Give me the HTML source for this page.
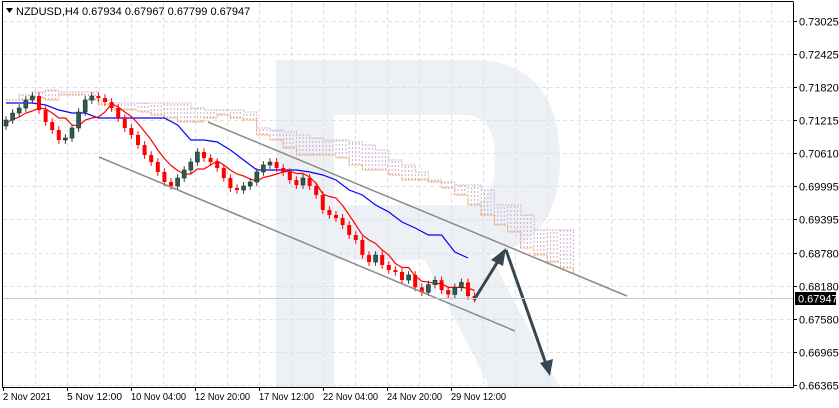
<!DOCTYPE html>
<html><head><meta charset="utf-8"><style>
html,body{margin:0;padding:0;background:#fff;}
svg{display:block;font-family:"Liberation Sans",sans-serif;}
</style></head><body>
<svg id="chart" width="839" height="408" viewBox="0 0 839 408" xmlns="http://www.w3.org/2000/svg">
<g id="watermark" fill="#edf1f6">
<rect x="276" y="60" width="58" height="328"/>
<path d="M334 60 H470 Q560 60 560 160 Q560 240 490 255 L560 388 H490 L425 260 H334 V205 H465 Q495 205 495 160 Q495 115 465 115 H334 Z"/>
</g>
<g id="grid"></g>
<g id="cloud"></g>
<g id="lines"></g>
<g id="candles"></g>
<line x1="208" y1="122" x2="627" y2="296" stroke="#8a8a8a" stroke-width="1.5"/>
<line x1="99" y1="157" x2="515" y2="331" stroke="#8a8a8a" stroke-width="1.5"/>
<g stroke="#37474f" stroke-width="3" fill="#37474f">
<line x1="474" y1="300" x2="500" y2="258"/>
<polygon points="506,248 491,260 503,266" stroke="none"/>
<line x1="506" y1="250" x2="546" y2="364"/>
<polygon points="550,376 540,363 553,359" stroke="none"/>
</g>
<line id="pline" x1="2" x2="793" stroke="#c8c8c8" stroke-width="1"/>
<g id="frame" fill="none" stroke="#000">
<line x1="2.5" y1="2" x2="2.5" y2="387.5"/>
<line x1="2" y1="387.5" x2="793.5" y2="387.5"/>
<line x1="793.5" y1="2" x2="793.5" y2="387.5"/>
<line x1="2" y1="1.5" x2="793.5" y2="1.5"/>
</g>
<g id="yaxis" font-size="11" fill="#000"></g>
<g id="xaxis" font-size="10" fill="#000"></g>
<text x="16" y="15" font-size="11">NZDUSD,H4  0.67934 0.67967 0.67799 0.67947</text>
<polygon points="6,8 13,8 9.5,13" fill="#000"/>
</svg>
<script>
const priceTicks=[0.73025,0.72425,0.71820,0.71215,0.70610,0.69995,0.69395,0.68780,0.68180,0.67580,0.66965,0.66365];
const timeLabels=["2 Nov 2021","5 Nov 12:00","10 Nov 04:00","12 Nov 20:00","17 Nov 12:00","22 Nov 04:00","24 Nov 20:00","29 Nov 12:00"];
const closes=[0.71209,0.71337,0.71429,0.71575,0.71648,0.71392,0.71173,0.71026,0.70844,0.70880,
0.71063,0.71355,0.71575,0.71648,0.71611,0.71538,0.71429,0.71246,0.71063,0.70935,
0.70752,0.70569,0.70441,0.70259,0.70076,0.70003,0.70149,0.70295,0.70441,0.70624,
0.70515,0.70441,0.70332,0.70149,0.69966,0.69930,0.70003,0.70076,0.70259,0.70387,
0.70441,0.70332,0.70259,0.70112,0.70021,0.70149,0.70003,0.69838,0.69564,0.69473,
0.69418,0.69290,0.69107,0.69016,0.68741,0.68613,0.68741,0.68559,0.68467,0.68431,
0.68284,0.68376,0.68150,0.68060,0.68200,0.68280,0.68100,0.68020,0.68150,0.68240,
0.67992,0.67947];
const firstOpen=0.71100;
const currentPrice=0.67947;
// Kijun-sen, sampled every 2 candles
const kijun=[0.71520,0.71520,0.71520,0.71483,0.71392,0.71337,0.71337,0.71246,0.71246,0.71246,
0.71246,0.71246,0.71246,0.71118,0.70844,0.70844,0.70807,0.70661,0.70478,0.70295,
0.70295,0.70295,0.70295,0.70259,0.70204,0.70112,0.69930,0.69838,0.69656,0.69527,
0.69345,0.69235,0.69107,0.69107,0.68796,0.68687];
// Senkou span B (cloud top), sampled every 2 candles
const spanB=[0.71575,0.71666,0.71721,0.71758,0.71721,0.71721,0.71721,0.71575,0.71520,0.71520,
0.71520,0.71520,0.71520,0.71520,0.71429,0.71392,0.71392,0.71392,0.71355,0.71063,
0.71026,0.70990,0.70935,0.70880,0.70844,0.70844,0.70807,0.70752,0.70661,0.70478,
0.70387,0.70259,0.70112,0.70076,0.70021,0.70021,0.69930,0.69656,0.69656,0.69473,
0.69198,0.69198,0.69198,0.69162];
// Senkou span A (cloud bottom), sampled every 2 candles
const spanA=[0.71575,0.71575,0.71611,0.71575,0.71666,0.71666,0.71575,0.71483,0.71392,0.71392,
0.71355,0.71301,0.71246,0.71173,0.71173,0.71246,0.71301,0.71246,0.71209,0.70935,
0.70844,0.70697,0.70569,0.70569,0.70569,0.70515,0.70387,0.70295,0.70295,0.70204,
0.70112,0.70112,0.70076,0.69966,0.69838,0.69656,0.69473,0.69290,0.69162,0.68869,
0.68741,0.68613,0.68504,0.68412];
const NS="http://www.w3.org/2000/svg";
function py(p){return 385-(p-0.66365)*5470;}
function cx(i){return 6+i*6.6;}
function mk(tag,attrs,parent){const e=document.createElementNS(NS,tag);for(const k in attrs)e.setAttribute(k,attrs[k]);parent.appendChild(e);return e;}
const grid=document.getElementById('grid'),ya=document.getElementById('yaxis'),xa=document.getElementById('xaxis');
priceTicks.forEach((p,i)=>{
  const y=Math.round(py(p))+0.5;
  const l=mk('line',{x1:3,x2:793,y1:y,y2:y,stroke:'#e0e0e0','stroke-dasharray':'4,3'},grid);
  
  
  mk('line',{x1:793,x2:797,y1:y,y2:y,stroke:'#000'},ya);
  const t=mk('text',{x:799,y:y+4},ya);t.textContent=p.toFixed(5);
  
  
});
for(let x=35;x<793;x+=32){
  const l=mk('line',{x1:Math.round(x)+0.5,x2:Math.round(x)+0.5,y1:3,y2:387,stroke:'#e0e0e0','stroke-dasharray':'4,3'},grid);
  
  
}
timeLabels.forEach((s,i)=>{
  const x=3+i*64;
  const t=mk('text',{x:x,y:400,textLength:s.length>10?55:48,lengthAdjust:'spacingAndGlyphs'},xa);t.textContent=s;
  
  
  mk('line',{x1:x+0.5,x2:x+0.5,y1:387,y2:391,stroke:'#000'},xa);
});
const n=closes.length;
const opens=closes.map((c,i)=>i?closes[i-1]:firstOpen);
const highs=closes.map((c,i)=>Math.max(c,opens[i])+0.0007);
const lows=closes.map((c,i)=>Math.min(c,opens[i])-0.0007);
const cg=document.getElementById('candles');
for(let i=0;i<n;i++){
  const x=cx(i),o=opens[i],c=closes[i],bull=c>=o;
  const col=bull?'#2f5a52':'#ff0000';
  const w=mk('line',{x1:x,x2:x,y1:py(highs[i]),y2:py(lows[i]),stroke:bull?'#2f3e3a':'#ff0000'},cg);
  
  
  const top=py(Math.max(o,c)),h=Math.max(1,Math.abs(py(o)-py(c)));
  const r=mk('rect',{x:x-2,y:top,width:4,height:h,fill:col,stroke:bull?'#24332f':'none','stroke-width':0.6},cg);
  
  
}
const tenkan=[];
for(let i=0;i<n;i++){const s=Math.max(0,i-4);tenkan.push((Math.max(...highs.slice(s,i+1))+Math.min(...lows.slice(s,i+1)))/2);}
const lg=document.getElementById('lines');
function sx(j){return 6+j*13.2;}
function stepPath(arr,xf,color,name,w,dash){
  let d='';arr.forEach((v,i)=>{const x=xf(i),y=py(v).toFixed(1);d+=i?('H'+x.toFixed(1)+'V'+y):('M'+x.toFixed(1)+' '+y);});
  const p=mk('path',{d:d,fill:'none',stroke:color,'stroke-width':w},lg);
  if(dash)p.setAttribute('stroke-dasharray',dash);
  
  
}
function linePath(arr,xf,color,name,w){
  let d='';arr.forEach((v,i)=>{d+=(i?'L':'M')+xf(i).toFixed(1)+' '+py(v).toFixed(1);});
  const p=mk('path',{d:d,fill:'none',stroke:color,'stroke-width':w},lg);
  
  
}
const clg=document.getElementById('cloud');
for(let j=0;j<spanA.length;j++){
  for(let k=0;k<4;k++){
    const x=sx(j)+k*3.3;
    if(x>575)break;
    const l=mk('line',{x1:x,x2:x,y1:py(spanA[j]),y2:py(spanB[j]),stroke:'#cdb0cd','stroke-dasharray':'2,2'},clg);
    
    
  }
}
stepPath(spanB,sx,'#d0b4d0','senkou-span-b',1,'2,1');
stepPath(spanA,sx,'#f4a460','senkou-span-a',1,'2,1');
linePath(kijun,sx,'#0000ff','kijun-sen',1.2);
linePath(tenkan,cx,'#ff0000','tenkan-sen',1.2);
const pl=document.getElementById('pline');const yy=Math.round(py(currentPrice))+0.5;
pl.setAttribute('y1',yy);pl.setAttribute('y2',yy);
const bx=mk('rect',{x:795,y:yy-6.5,width:41,height:13,fill:'#000'},ya);


const bt=mk('text',{x:798,y:yy+4,fill:'#fff'},ya);bt.textContent=currentPrice.toFixed(5);


</script>
</body></html>
